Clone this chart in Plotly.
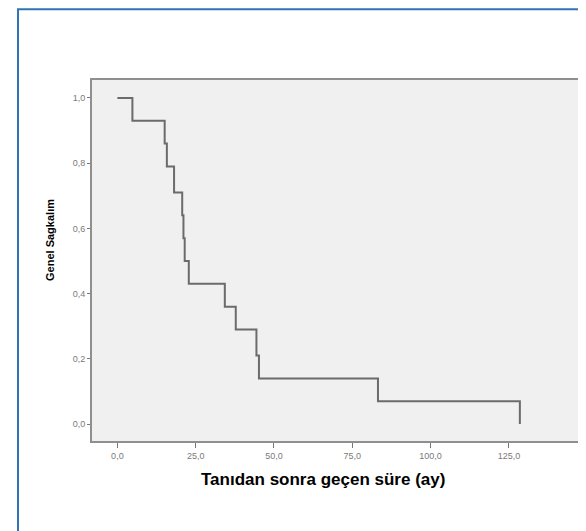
import plotly.graph_objects as go

# Kaplan-Meier steps (months, survival)
times = [0.0, 4.8, 15.1, 15.8, 18.1, 20.7, 21.1, 21.5, 22.8, 34.3, 37.8, 44.4, 45.2, 83.2, 128.5]
survival = [1.0, 0.93, 0.86, 0.79, 0.71, 0.64, 0.57, 0.50, 0.43, 0.36, 0.29, 0.21, 0.14, 0.07, 0.0]

x_ticks = [0, 25, 50, 75, 100, 125]
y_ticks = [0.0, 0.2, 0.4, 0.6, 0.8, 1.0]

x_title = "Tanıdan sonra geçen süre (ay)"
y_title = "Genel Sagkalım"

fig = go.Figure()
fig.add_trace(go.Scatter(
    x=times, y=survival, mode="lines", line_shape="hv",
    line=dict(color="#6b6b6b", width=2), showlegend=False, hoverinfo="skip"))

tick_font = dict(size=9, color="#7a7a7a", family="Liberation Sans, Arial, sans-serif")

fig.update_layout(
    width=586, height=531,
    margin=dict(l=84, r=14, t=72, b=98),
    paper_bgcolor="white", plot_bgcolor="#f0f0f0",
    separators=",.",
    font=dict(family="Liberation Sans, Arial, sans-serif", color="#7a7a7a", size=9),
    xaxis=dict(range=[-8.1, 147.7], tickvals=x_ticks, tickformat=".1f",
               showgrid=False, zeroline=False, showline=True, mirror=True,
               linecolor="#8f8f8f", linewidth=2, ticks="outside", ticklen=5,
               tickcolor="#777777", tickwidth=1, tickfont=tick_font),
    yaxis=dict(range=[-0.052, 1.055], tickvals=y_ticks, tickformat=".1f",
               showgrid=False, zeroline=False, showline=True, mirror=True,
               linecolor="#8f8f8f", linewidth=2, ticks="outside", ticklen=3,
               tickcolor="#777777", tickwidth=1, tickfont=tick_font),
    annotations=[
        dict(text=x_title, xref="paper", yref="paper", x=0.473, y=-0.108,
             xanchor="center", yanchor="middle", showarrow=False,
             font=dict(size=17, color="black", family="Liberation Sans, Arial, sans-serif", weight="bold")),
        dict(text=y_title, xref="paper", yref="paper", x=-0.086, y=0.557,
             xanchor="center", yanchor="middle", showarrow=False, textangle=-90,
             font=dict(size=11, color="black", family="Liberation Sans, Arial, sans-serif", weight="bold")),
    ],
    shapes=[
        dict(type="rect", xref="paper", yref="paper", x0=-0.1516, x1=1.06, y0=-0.266, y1=1.196,
             line=dict(color="#2f75b5", width=2), fillcolor="rgba(0,0,0,0)", layer="below"),
    ],
)

fig.write_html("out.html")
